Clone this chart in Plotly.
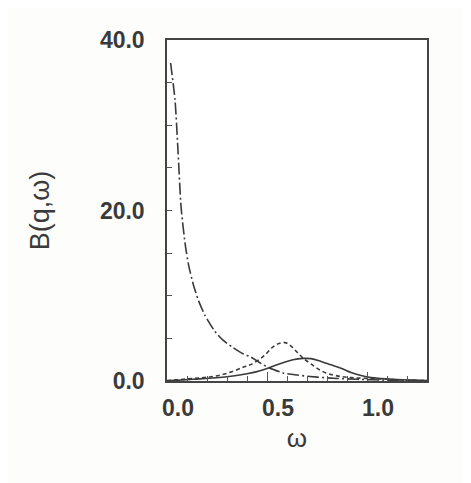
import plotly.graph_objects as go

# dash-dot curve
omega_dd = [0.018, 0.04, 0.055, 0.07, 0.09, 0.108, 0.133, 0.158, 0.19, 0.24,
            0.28, 0.325, 0.38, 0.42, 0.46, 0.51, 0.58, 0.65, 0.75, 0.85, 0.95, 1.1, 1.3]
B_dd = [37.3, 33.0, 27.0, 20.5, 16.2, 13.6, 11.2, 9.4, 7.7, 5.8,
        4.8, 4.0, 3.2, 2.8, 2.2, 1.55, 0.95, 0.7, 0.45, 0.3, 0.2, 0.1, 0.05]

# dotted/dashed curve
omega_ds = [0.0, 0.13, 0.22, 0.30, 0.38, 0.42, 0.48, 0.53, 0.56, 0.59, 0.62, 0.65,
            0.68, 0.72, 0.78, 0.85, 0.92, 1.0, 1.1, 1.2, 1.3]
B_ds = [0.05, 0.3, 0.5, 0.9, 1.6, 1.95, 2.85, 4.0, 4.4, 4.5, 4.1, 3.4,
        2.7, 2.0, 1.1, 0.6, 0.4, 0.3, 0.2, 0.1, 0.05]

# solid curve
omega_s = [0.0, 0.13, 0.3, 0.4, 0.45, 0.51, 0.58, 0.63, 0.68, 0.72, 0.77, 0.82,
           0.87, 0.92, 0.97, 1.02, 1.07, 1.15, 1.3]
B_s = [0.02, 0.2, 0.5, 0.85, 1.1, 1.55, 2.15, 2.5, 2.65, 2.62, 2.3, 1.9,
       1.5, 1.0, 0.65, 0.4, 0.3, 0.18, 0.05]

x_tickvals = [0.0, 0.5, 1.0]
x_ticktext = ["0.0", "0.5", "1.0"]
y_tickvals = [0, 20, 40]
y_ticktext = ["0.0", "20.0", "40.0"]

ink = "#3a3a3a"

fig = go.Figure()
fig.add_trace(go.Scatter(x=omega_dd, y=B_dd, mode="lines",
                         line=dict(color=ink, width=1.6, dash="12px,3px,2px,3px",
                                   shape="spline", smoothing=0.6),
                         showlegend=False))
fig.add_trace(go.Scatter(x=omega_ds, y=B_ds, mode="lines",
                         line=dict(color=ink, width=1.6, dash="4px,3px", shape="spline"),
                         showlegend=False))
fig.add_trace(go.Scatter(x=omega_s, y=B_s, mode="lines",
                         line=dict(color=ink, width=1.6, shape="spline"),
                         showlegend=False))

fig.update_layout(
    width=463, height=475,
    margin=dict(l=159, r=44, t=32, b=102),
    paper_bgcolor="#fdfdfb", plot_bgcolor="white",
    font=dict(family="Liberation Sans, Arial, sans-serif", color=ink),
)
fig.update_xaxes(
    range=[0, 1.3], showgrid=False, zeroline=False, automargin=False,
    showline=True, linecolor="#444", linewidth=1.5, mirror=True,
    tickmode="array", tickvals=x_tickvals, ticktext=x_ticktext,
    ticks="inside", ticklen=9, tickwidth=1, tickcolor="#555",
    minor=dict(dtick=0.1, ticks="inside", ticklen=5, tickwidth=1, tickcolor="#555"),
    tickfont=dict(size=23, weight="bold", color=ink),
    ticklabelstandoff=6, ticklabelshift=11,
    title=dict(text="ω", font=dict(size=26, color=ink), standoff=8),
)
fig.update_yaxes(
    range=[0, 40], showgrid=False, zeroline=False, automargin=False,
    showline=True, linecolor="#444", linewidth=1.5, mirror=True,
    tickmode="array", tickvals=y_tickvals, ticktext=y_ticktext,
    ticks="inside", ticklen=5, tickwidth=1, tickcolor="#555",
    minor=dict(dtick=5, ticks="inside", ticklen=5, tickwidth=1, tickcolor="#555"),
    tickfont=dict(size=23, weight="bold", color=ink),
    ticklabelstandoff=16,
    title=dict(text="B(q,ω)", font=dict(size=27, color=ink), standoff=42),
)

fig.write_html("out.html")
